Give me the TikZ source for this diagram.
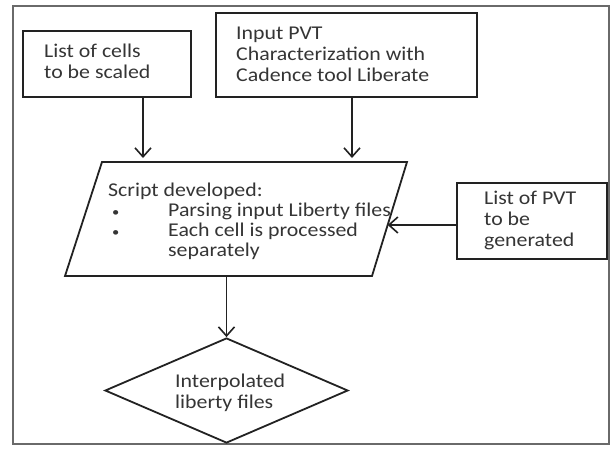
\documentclass[tikz,border=0pt]{standalone}
\usepackage{fontspec}
\setmainfont{Carlito}[FakeStretch=1.12]
\usetikzlibrary{arrows.meta,shapes.geometric}
\definecolor{linec}{HTML}{222222}
\definecolor{textc}{HTML}{353535}
\definecolor{framec}{HTML}{6A6A6A}
\newcommand{\smallbul}{{\fontsize{13}{13}\selectfont •}}
\begin{document}
\begin{tikzpicture}[x=1pt,y=-1pt,
  box/.style={draw=linec, line width=1.8pt, inner sep=0pt},
  lbl/.style={text=textc, font=\fontsize{19.5}{21}\selectfont, align=left, inner sep=0pt, anchor=north west},
  arrow/.style={draw=linec, line width=1.6pt, -{Straight Barb[length=9pt,width=16pt,line width=1.6pt]}}]
\useasboundingbox (0,0) rectangle (611,451);
\fill[white] (0,0) rectangle (611,451);
\draw[framec, line width=1.5pt] (13,6) rectangle (609,444);
% boxes
\node[box, minimum width=168pt, minimum height=66pt] (cells) at (107,64) {};
\node[lbl] (cellstxt) at (44,44) {List of cells\\to be scaled};
\node[box, minimum width=261pt, minimum height=84pt] (input) at (346.5,55) {};
\node[lbl] (inputtxt) at (236,26.7) {Input PVT\\Characterization with\\Cadence tool Liberate};
\node[box, minimum width=150pt, minimum height=76pt] (pvt) at (532,221) {};
\node[lbl] (pvttxt) at (484,190.4) {List of PVT\\to be\\generated};
% parallelogram
\coordinate (stl) at (102,162);
\coordinate (str) at (407,162);
\coordinate (sbr) at (372,276);
\coordinate (sbl) at (65,276);
\coordinate (sright) at (387.7,225);
\draw[linec, line width=1.8pt, line join=miter] (stl) -- (str) -- (sbr) -- (sbl) -- cycle;
\node[lbl, font=\fontsize{19.5}{20}\selectfont] (scripttxt) at (108,182.4) {Script developed:\\\hspace*{4pt}\makebox[56pt][l]{\smallbul}Parsing input Liberty files\\\hspace*{4pt}\makebox[56pt][l]{\smallbul}Each cell is processed\\\hspace*{60pt}separately};
\node[box, diamond, minimum width=243pt, minimum height=105pt] (out) at (226.5,390.5) {};
\node[lbl] (outtxt) at (175,373.4) {Interpolated\\liberty files};
% connectors
\draw[arrow, shorten >=4pt] ([xshift=36pt]cells.south) -- ([xshift=36pt]cells.south |- stl);
\draw[arrow, shorten >=4pt] ([xshift=5.5pt]input.south) -- ([xshift=5.5pt]input.south |- stl);
\draw[arrow] (pvt.west |- sright) -- (sright);
\draw[arrow] (sbl -| out.north) -- (out.north);
\end{tikzpicture}
\end{document}
